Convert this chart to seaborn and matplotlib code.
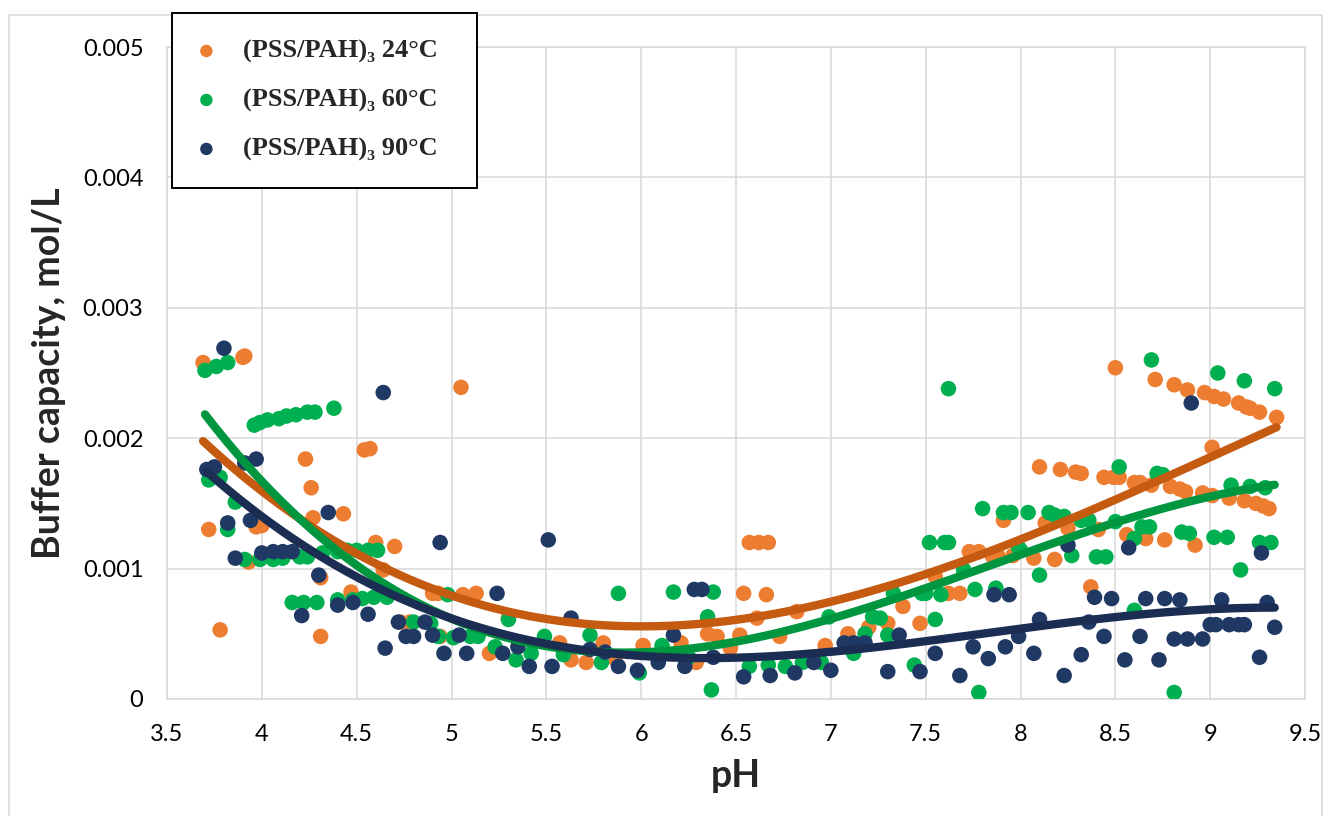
import pandas as pd
import numpy as np
import matplotlib
matplotlib.use('Agg')
import matplotlib.pyplot as plt
from matplotlib.patches import Rectangle
from matplotlib.ticker import FuncFormatter
import seaborn as sns

# Series labels and colours
labels = ['(PSS/PAH)\u2083 24\u00b0C', '(PSS/PAH)\u2083 60\u00b0C', '(PSS/PAH)\u2083 90\u00b0C']
point_colors = ['#ED7D31', '#00B050', '#1F3864']
line_colors = ['#C55A11', '#00953F', '#1B2D52']

# Buffer capacity (y values in units of 1e-3 mol/L)
ph_24 = [3.69, 3.72, 3.78, 3.90, 3.91, 3.93, 3.97, 4.00, 4.23, 4.26, 4.27, 4.31, 4.31, 4.43,
         4.47, 4.54, 4.57, 4.60, 4.64, 4.70, 4.73, 4.78, 4.90, 4.93, 4.94, 5.05, 5.06, 5.13,
         5.20, 5.30, 5.57, 5.63, 5.71, 5.80, 5.86, 6.01, 6.21, 6.29, 6.35, 6.40, 6.47, 6.52,
         6.54, 6.57, 6.61, 6.62, 6.66, 6.67, 6.73, 6.82, 6.97, 7.09, 7.20, 7.30, 7.38, 7.47,
         7.55, 7.62, 7.68, 7.73, 7.78, 7.85, 7.88, 7.91, 7.96, 8.07, 8.10, 8.13, 8.18, 8.21,
         8.25, 8.29, 8.32, 8.37, 8.41, 8.44, 8.49, 8.50, 8.52, 8.56, 8.60, 8.63, 8.66, 8.69,
         8.71, 8.76, 8.79, 8.81, 8.84, 8.87, 8.88, 8.92, 8.96, 8.97, 9.01, 9.01, 9.02, 9.07,
         9.10, 9.15, 9.18, 9.19, 9.21, 9.24, 9.26, 9.28, 9.31, 9.35]
bc_24 = [2.58, 1.30, 0.53, 2.62, 2.63, 1.05, 1.32, 1.33, 1.84, 1.62, 1.39, 0.93, 0.48, 1.42,
         0.82, 1.91, 1.92, 1.20, 0.99, 1.17, 0.59, 0.59, 0.81, 0.81, 0.48, 2.39, 0.80, 0.81,
         0.35, 0.62, 0.43, 0.30, 0.28, 0.43, 0.31, 0.41, 0.43, 0.28, 0.50, 0.48, 0.39, 0.49,
         0.81, 1.20, 0.62, 1.20, 0.80, 1.20, 0.48, 0.67, 0.41, 0.50, 0.55, 0.58, 0.71, 0.58,
         0.94, 0.81, 0.81, 1.13, 1.13, 1.10, 1.10, 1.37, 1.10, 1.08, 1.78, 1.35, 1.07, 1.76,
         1.31, 1.74, 1.73, 0.86, 1.30, 1.70, 1.70, 2.54, 1.70, 1.26, 1.66, 1.66, 1.23, 1.64,
         2.45, 1.22, 1.63, 2.41, 1.61, 1.59, 2.37, 1.18, 1.58, 2.35, 1.56, 1.93, 2.32, 2.30,
         1.54, 2.27, 1.52, 2.24, 2.23, 1.50, 2.20, 1.48, 1.46, 2.16]

ph_60 = [3.70, 3.76, 3.82, 3.72, 3.78, 3.86, 3.82, 3.91, 3.96, 3.99, 4.03, 4.09, 4.13, 4.18,
         4.24, 4.28, 4.38, 3.99, 4.06, 4.11, 4.20, 4.24, 4.32, 4.40, 4.45, 4.50, 4.56, 4.61,
         4.16, 4.22, 4.29, 4.40, 4.48, 4.53, 4.59, 4.66, 4.80, 4.89, 4.93, 4.98, 5.01, 5.10,
         5.14, 5.23, 5.30, 5.34, 5.42, 5.49, 5.59, 5.73, 5.79, 5.88, 5.99, 6.11, 6.17, 6.25,
         6.35, 6.37, 6.38, 6.57, 6.67, 6.76, 6.85, 6.95, 6.99, 7.12, 7.18, 7.22, 7.26, 7.30,
         7.33, 7.44, 7.48, 7.50, 7.52, 7.55, 7.58, 7.60, 7.62, 7.62, 7.70, 7.76, 7.78, 7.80,
         7.87, 7.91, 7.95, 7.99, 8.00, 8.04, 8.10, 8.15, 8.18, 8.23, 8.27, 8.32, 8.36, 8.40,
         8.45, 8.50, 8.52, 8.60, 8.60, 8.64, 8.68, 8.69, 8.72, 8.75, 8.81, 8.85, 8.89, 9.02,
         9.04, 9.09, 9.11, 9.16, 9.18, 9.21, 9.26, 9.29, 9.32, 9.34]
bc_60 = [2.52, 2.55, 2.58, 1.68, 1.70, 1.51, 1.30, 1.07, 2.10, 2.12, 2.14, 2.15, 2.17, 2.18,
         2.20, 2.20, 2.23, 1.07, 1.07, 1.08, 1.09, 1.09, 1.12, 1.13, 1.14, 1.14, 1.14, 1.14,
         0.74, 0.74, 0.74, 0.76, 0.76, 0.77, 0.78, 0.78, 0.59, 0.58, 0.48, 0.80, 0.47, 0.48,
         0.48, 0.40, 0.61, 0.30, 0.35, 0.48, 0.34, 0.49, 0.28, 0.81, 0.20, 0.41, 0.82, 0.32,
         0.63, 0.07, 0.82, 0.25, 0.26, 0.25, 0.28, 0.28, 0.63, 0.35, 0.50, 0.63, 0.62, 0.49,
         0.81, 0.26, 0.81, 0.81, 1.20, 0.61, 0.80, 1.20, 1.20, 2.38, 0.99, 0.84, 0.05, 1.46,
         0.85, 1.43, 1.43, 1.16, 1.14, 1.43, 0.95, 1.43, 1.41, 1.40, 1.10, 1.37, 1.37, 1.09,
         1.09, 1.36, 1.78, 1.23, 0.68, 1.32, 1.32, 2.60, 1.73, 1.72, 0.05, 1.28, 1.27, 1.24,
         2.50, 1.24, 1.64, 0.99, 2.44, 1.63, 1.20, 1.62, 1.20, 2.38]

ph_90 = [3.71, 3.75, 3.80, 3.82, 3.86, 3.91, 3.94, 3.97, 4.00, 4.06, 4.11, 4.16, 4.21, 4.30,
         4.35, 4.40, 4.48, 4.56, 4.64, 4.65, 4.72, 4.76, 4.80, 4.86, 4.90, 4.94, 4.96, 5.04,
         5.08, 5.24, 5.27, 5.35, 5.41, 5.51, 5.53, 5.63, 5.73, 5.81, 5.88, 5.98, 6.09, 6.17,
         6.23, 6.28, 6.32, 6.38, 6.54, 6.68, 6.81, 6.91, 7.00, 7.07, 7.12, 7.18, 7.30, 7.36,
         7.47, 7.55, 7.68, 7.75, 7.83, 7.86, 7.92, 7.94, 7.99, 8.07, 8.10, 8.23, 8.25, 8.32,
         8.36, 8.39, 8.44, 8.48, 8.55, 8.57, 8.63, 8.66, 8.73, 8.76, 8.81, 8.84, 8.88, 8.90,
         8.96, 9.00, 9.03, 9.06, 9.10, 9.15, 9.18, 9.26, 9.27, 9.30, 9.34]
bc_90 = [1.76, 1.78, 2.69, 1.35, 1.08, 1.81, 1.37, 1.84, 1.12, 1.13, 1.13, 1.13, 0.64, 0.95,
         1.43, 0.72, 0.74, 0.65, 2.35, 0.39, 0.59, 0.48, 0.48, 0.59, 0.49, 1.20, 0.35, 0.49,
         0.35, 0.81, 0.35, 0.40, 0.25, 1.22, 0.25, 0.62, 0.38, 0.36, 0.25, 0.22, 0.28, 0.49,
         0.25, 0.84, 0.84, 0.32, 0.17, 0.18, 0.20, 0.28, 0.22, 0.43, 0.43, 0.43, 0.21, 0.49,
         0.21, 0.35, 0.18, 0.40, 0.31, 0.80, 0.40, 0.80, 0.48, 0.35, 0.61, 0.18, 1.18, 0.34,
         0.59, 0.78, 0.48, 0.77, 0.30, 1.16, 0.48, 0.77, 0.30, 0.77, 0.46, 0.76, 0.46, 2.27,
         0.46, 0.57, 0.57, 0.76, 0.57, 0.57, 0.57, 0.32, 1.12, 0.74, 0.55]

x_ticks = [3.5, 4, 4.5, 5, 5.5, 6, 6.5, 7, 7.5, 8, 8.5, 9, 9.5]
y_ticks = [0, 0.001, 0.002, 0.003, 0.004, 0.005]

frames = []
for lab, xs, ys in zip(labels, [ph_24, ph_60, ph_90], [bc_24, bc_60, bc_90]):
    frames.append(pd.DataFrame({'pH': xs, 'bc': np.array(ys) * 1e-3, 'series': lab}))
data = pd.concat(frames, ignore_index=True)

sns.set_style('white')
plt.rcParams['font.family'] = ['Lato', 'DejaVu Sans']

fig = plt.figure(figsize=(13.34, 8.16), dpi=100)
ax = fig.add_axes([0.1252, 0.1434, 0.8531, 0.7990])

# scatter points first, then the polynomial trend lines on top
for lab, pc in zip(labels, point_colors):
    sub = data[data['series'] == lab]
    sns.scatterplot(data=sub, x='pH', y='bc', color=pc, s=125, edgecolor='none',
                    ax=ax, label=lab, zorder=3)
for lab, lc in zip(labels, line_colors):
    sub = data[data['series'] == lab]
    sns.regplot(data=sub, x='pH', y='bc', order=3, ci=None, scatter=False, truncate=True,
                line_kws={'color': lc, 'linewidth': 6, 'solid_capstyle': 'round', 'zorder': 4},
                ax=ax)

ax.set_xlim(3.5, 9.5)
ax.set_ylim(0, 0.005)
ax.set_xticks(x_ticks)
ax.set_yticks(y_ticks)
ax.xaxis.set_major_formatter(FuncFormatter(lambda v, p: '%g' % v))
ax.yaxis.set_major_formatter(FuncFormatter(lambda v, p: '%g' % v))
ax.tick_params(axis='both', length=0, labelsize=17, colors='black')
ax.tick_params(axis='x', pad=18)
ax.tick_params(axis='y', pad=17)
ax.grid(True, color='#D9D9D9', linewidth=1.1)
ax.set_axisbelow(True)
for sp in ax.spines.values():
    sp.set_color('#D9D9D9')
    sp.set_linewidth(1.1)

ax.set_xlabel('pH', fontsize=27, fontweight='bold', labelpad=10)
ax.set_ylabel('Buffer capacity, mol/L', fontsize=27, fontweight='bold', labelpad=12)

# legend box sitting over the top-left corner
h, l = ax.get_legend_handles_labels()
ax.get_legend().remove()
leg = fig.legend(h, l, loc='upper left', mode='expand',
                 bbox_to_anchor=(0.129, 0.778, 0.2286, 0.206),
                 frameon=True, fancybox=False, edgecolor='black', framealpha=1,
                 markerscale=0.8, handlelength=0.6, handletextpad=1.1,
                 labelspacing=0.95, borderpad=1.0, borderaxespad=0,
                 prop={'family': ['Liberation Serif', 'DejaVu Serif'], 'weight': 'bold', 'size': 19})
leg.get_frame().set_linewidth(1.4)
leg.set_zorder(10)

# outer chart border
fig.patches.append(Rectangle((9 / 1334, -0.01), 1313 / 1334, (816 - 15) / 816 + 0.01,
                             transform=fig.transFigure, fill=False,
                             edgecolor='#D9D9D9', linewidth=1.1, zorder=0))

fig.savefig('out.png', dpi=100)
